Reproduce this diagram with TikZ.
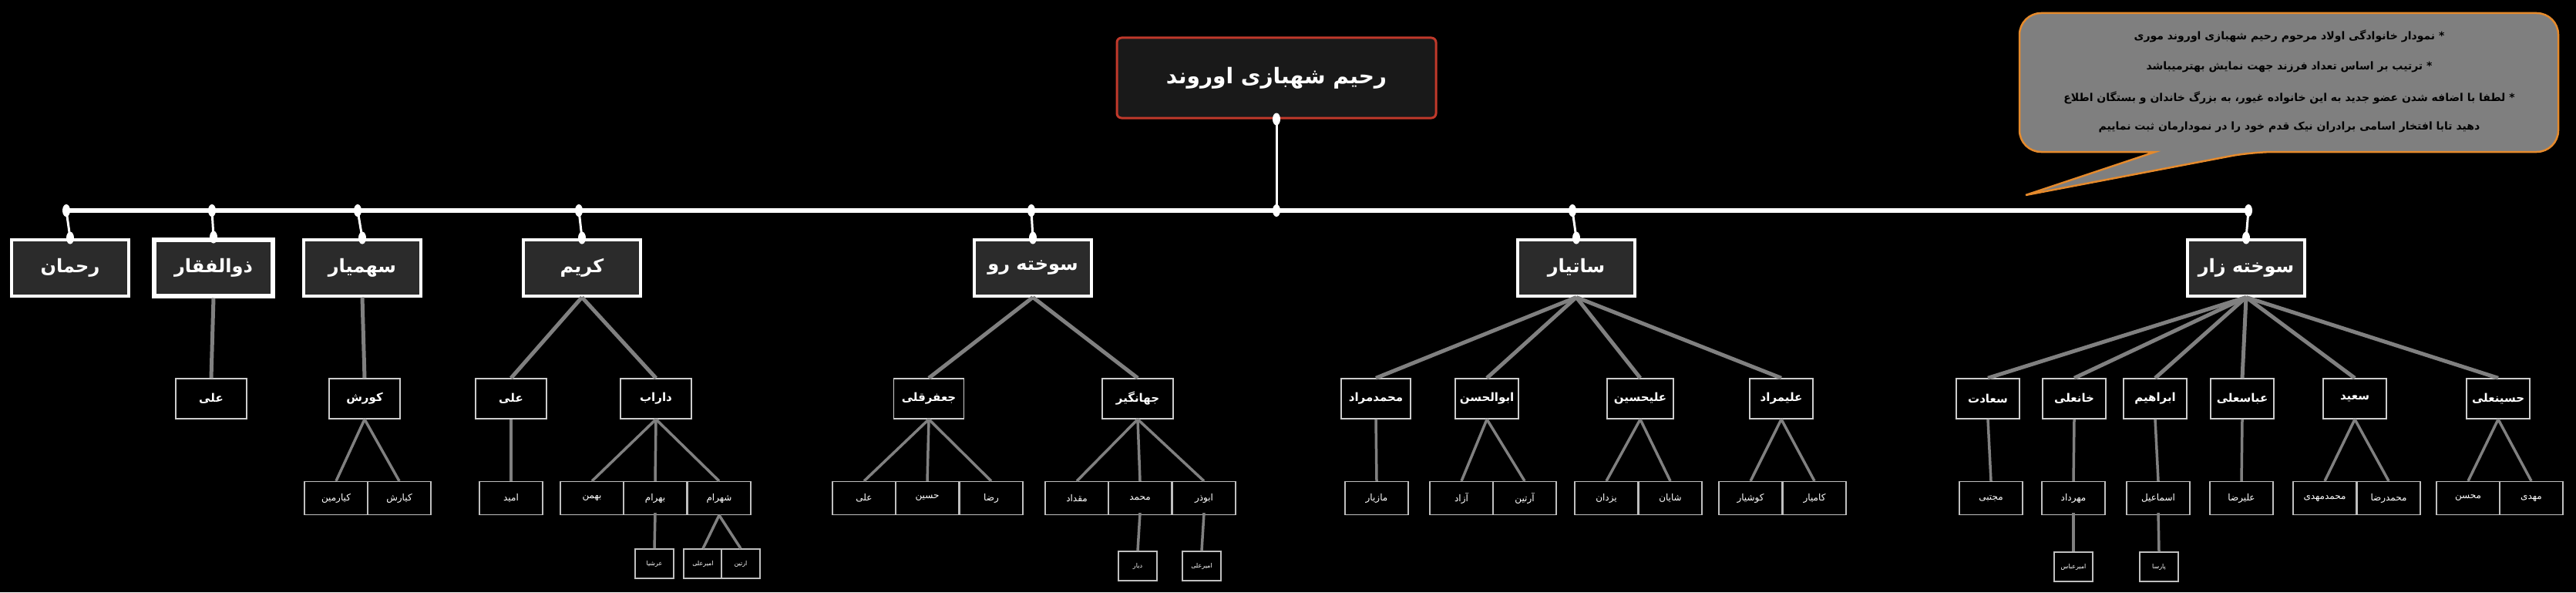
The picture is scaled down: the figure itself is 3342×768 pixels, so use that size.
\documentclass[tikz,border=0pt]{standalone}
\usepackage{fontspec}
\newfontfamily\arabicfont[Script=Arabic]{DejaVu Sans}
\TeXXeTstate=1
\newcommand{\fa}[1]{{\arabicfont\beginR #1\endR}}
\definecolor{lgray}{HTML}{808080}
\definecolor{bubble}{HTML}{7F7F7F}
\definecolor{bubbleline}{HTML}{E58A2C}
\definecolor{rootred}{HTML}{C0392B}
\begin{document}
\begin{tikzpicture}[x=1pt,y=-1pt,
  lone/.style={draw=white,line width=4pt,fill=black!83,text=white,font=\arabicfont\bfseries\fontsize{24}{28}\selectfont,minimum width=152pt,minimum height=73pt,inner sep=0pt},
  ltwo/.style={draw=white!80!black,line width=1.5pt,fill=black,text=white,font=\arabicfont\bfseries\fontsize{15}{18}\selectfont,minimum width=82pt,minimum height=52pt,inner sep=0pt},
  lthree/.style={draw=white!75!black,line width=1.3pt,fill=black,text=white,font=\arabicfont\fontsize{12}{14}\selectfont,minimum width=82pt,minimum height=43pt,inner sep=0pt},
  lfour/.style={draw=white!75!black,line width=1.3pt,fill=black,text=white,font=\arabicfont\fontsize{8}{10}\selectfont,minimum width=50pt,minimum height=38pt,inner sep=0pt},
  cA/.style={draw=lgray,line width=5pt},
  cB/.style={draw=lgray,line width=3.5pt},
  drop/.style={draw=white,line width=3pt},
  dot/.style={fill=white,draw=none}]
\fill[black] (0,0) rectangle (3342,768);
\useasboundingbox (0,0) rectangle (3342,768);
% root
\node[draw=rootred,line width=3pt,rounded corners=6pt,fill=black!90,text=white,font=\arabicfont\bfseries\fontsize{28}{32}\selectfont,minimum width=414pt,minimum height=104pt] (root) at (1656,101) {\fa{رحیم شهبازی اوروند}};
% callout
\draw[bubbleline,fill=bubble,line width=2.5pt,rounded corners=28pt]
  (2620,17) -- (3319,17) -- (3319,197) -- (2922,197) [sharp corners] -- (2628,253) -- (2796,197) [rounded corners=28pt] -- (2620,197) -- cycle;
\begin{scope}[every node/.style={text=black,font=\arabicfont\bfseries\fontsize{14}{16}\selectfont,inner sep=0pt}]
\node (t1) at (2970,47) {\fa{* نمودار خانوادگی اولاد مرحوم رحیم شهبازی اوروند موری}};
\node (t2) at (2970,87) {\fa{* ترتیب بر اساس تعداد فرزند جهت نمایش بهترمیباشد}};
\node (t3) at (2970,127) {\fa{* لطفا با اضافه شدن عضو جدید به این خانواده غیور، به بزرگ خاندان و بستگان اطلاع}};
\node (t4) at (2970,165) {\fa{دهید تابا افتخار اسامی برادران نیک قدم خود را در نمودارمان ثبت نماییم}};
\end{scope}
% bus
\coordinate (bL) at (86,273); \coordinate (bR) at (2917,273);
\coordinate (bRoot) at (1656,273);
\draw[white,line width=6pt] (bL) -- (bR);
\draw[drop] (root.south) -- (bRoot);
% level 1
\node[lone] (rahman) at (91,347) {\fa{رحمان}};
\node[lone,line width=6pt,minimum width=154pt] (zolf) at (277,347) {\fa{ذوالفقار}};
\node[lone] (sohm) at (470,347) {\fa{سهمیار}};
\node[lone] (karim) at (755,347) {\fa{کریم}};
\node[lone] (sr) at (1340,347) {\fa{سوخته رو}};
\node[lone] (satyar) at (2045,347) {\fa{ساتیار}};
\node[lone] (sz) at (2914,347) {\fa{سوخته زار}};
\foreach \n/\x in {rahman/86,zolf/275,sohm/464,karim/751,sr/1338,satyar/2040,sz/2917}{
  \coordinate (c\n) at (\x,273);
  \draw[drop] (c\n) -- (\n.north);
  \fill[dot] (c\n) ellipse (5pt and 8pt);
  \fill[dot] (\n.north) ellipse (5pt and 8pt);
}
\fill[dot] (bRoot) ellipse (5pt and 8pt);
\fill[dot] (root.south) ellipse (5pt and 8pt);
% level 2
\node[ltwo,minimum width=92pt] (ali1) at (274,517) {\fa{علی}};
\node[ltwo,minimum width=92pt] (kurosh) at (473,517) {\fa{کورش}};
\node[ltwo,minimum width=92pt] (ali2) at (663,517) {\fa{علی}};
\node[ltwo,minimum width=92pt] (darab) at (851,517) {\fa{داراب}};
\node[ltwo,minimum width=91pt] (jafar) at (1205,517) {\fa{جعفرقلی}};
\node[ltwo,minimum width=92pt] (jahan) at (1476,517) {\fa{جهانگیر}};
\node[ltwo,minimum width=90pt] (mm) at (1785,517) {\fa{محمدمراد}};
\node[ltwo] (abol) at (1929,517) {\fa{ابوالحسن}};
\node[ltwo,minimum width=86pt] (alih) at (2128,517) {\fa{علیحسین}};
\node[ltwo] (alim) at (2311,517) {\fa{علیمراد}};
\node[ltwo] (saadat) at (2579,517) {\fa{سعادت}};
\node[ltwo] (khan) at (2691,517) {\fa{خانعلی}};
\node[ltwo] (ebr) at (2796,517) {\fa{ابراهیم}};
\node[ltwo] (abbas) at (2909,517) {\fa{عباسعلی}};
\node[ltwo] (saeed) at (3055,517) {\fa{سعید}};
\node[ltwo] (hosein) at (3241,517) {\fa{حسینعلی}};
\foreach \p/\c in {zolf/ali1,sohm/kurosh,karim/ali2,karim/darab,sr/jafar,sr/jahan,satyar/mm,satyar/abol,satyar/alih,satyar/alim,sz/saadat,sz/khan,sz/ebr,sz/abbas,sz/saeed,sz/hosein}
  \draw[cA] (\p.south) -- (\c.north);
% level 3
\node[lthree] (kiarmin) at (436,646) {\fa{کیارمین}};
\node[lthree] (kiarash) at (518,646) {\fa{کیارش}};
\node[lthree] (omid) at (663,646) {\fa{امید}};
\node[lthree] (bahman) at (768,646) {\fa{بهمن}};
\node[lthree] (bahram) at (850,646) {\fa{بهرام}};
\node[lthree] (shahram) at (933,646) {\fa{شهرام}};
\node[lthree] (ali3) at (1121,646) {\fa{علی}};
\node[lthree] (hos3) at (1203,646) {\fa{حسین}};
\node[lthree] (reza) at (1286,646) {\fa{رضا}};
\node[lthree] (meghdad) at (1397,646) {\fa{مقداد}};
\node[lthree] (mohammad) at (1479,646) {\fa{محمد}};
\node[lthree] (abuzar) at (1562,646) {\fa{ابوذر}};
\node[lthree] (maziar) at (1786,646) {\fa{مازیار}};
\node[lthree] (azad) at (1896,646) {\fa{آزاد}};
\node[lthree] (artin) at (1978,646) {\fa{آرتین}};
\node[lthree] (yazdan) at (2084,646) {\fa{یزدان}};
\node[lthree] (shayan) at (2167,646) {\fa{شایان}};
\node[lthree] (kushyar) at (2271,646) {\fa{کوشیار}};
\node[lthree] (kamyar) at (2354,646) {\fa{کامیار}};
\node[lthree] (mojtaba) at (2583,646) {\fa{مجتبی}};
\node[lthree] (mehrdad) at (2690,646) {\fa{مهرداد}};
\node[lthree] (esmail) at (2800,646) {\fa{اسماعیل}};
\node[lthree] (alireza) at (2908,646) {\fa{علیرضا}};
\node[lthree] (mmahdi) at (3016,646) {\fa{محمدمهدی}};
\node[lthree] (mreza) at (3099,646) {\fa{محمدرضا}};
\node[lthree] (mohsen) at (3202,646) {\fa{محسن}};
\node[lthree] (mahdi) at (3284,646) {\fa{مهدی}};
\foreach \p/\c in {kurosh/kiarmin,kurosh/kiarash,ali2/omid,darab/bahman,darab/bahram,darab/shahram,jafar/ali3,jafar/hos3,jafar/reza,jahan/meghdad,jahan/mohammad,jahan/abuzar,mm/maziar,abol/azad,abol/artin,alih/yazdan,alih/shayan,alim/kushyar,alim/kamyar,saadat/mojtaba,khan/mehrdad,ebr/esmail,abbas/alireza,saeed/mmahdi,saeed/mreza,hosein/mohsen,hosein/mahdi}
  \draw[cB] (\p.south) -- (\c.north);
% level 4
\node[lfour] (arshia) at (849,731) {\fa{عرشیا}};
\node[lfour] (amirali) at (912,731) {\fa{امیرعلی}};
\node[lfour] (artin2) at (961,731) {\fa{ارتین}};
\node[lfour] (diar) at (1476,734) {\fa{دیار}};
\node[lfour] (amirali2) at (1559,734) {\fa{امیرعلی}};
\node[lfour] (amirabbas) at (2690,735) {\fa{امیرعباس}};
\node[lfour] (parsa) at (2801,735) {\fa{پارسا}};
\draw[cB] ([yshift=3pt]bahram.south) -- (arshia.north);
\draw[cB] (shahram.south) -- (amirali.north);
\draw[cB] (shahram.south) -- (artin2.north);
\draw[cB] ([yshift=3pt]mohammad.south) -- (diar.north);
\draw[cB] ([yshift=3pt]abuzar.south) -- (amirali2.north);
\draw[cB] ([yshift=3pt]mehrdad.south) -- (amirabbas.north);
\draw[cB] ([yshift=3pt]esmail.south) -- (parsa.north);
\end{tikzpicture}
\end{document}
